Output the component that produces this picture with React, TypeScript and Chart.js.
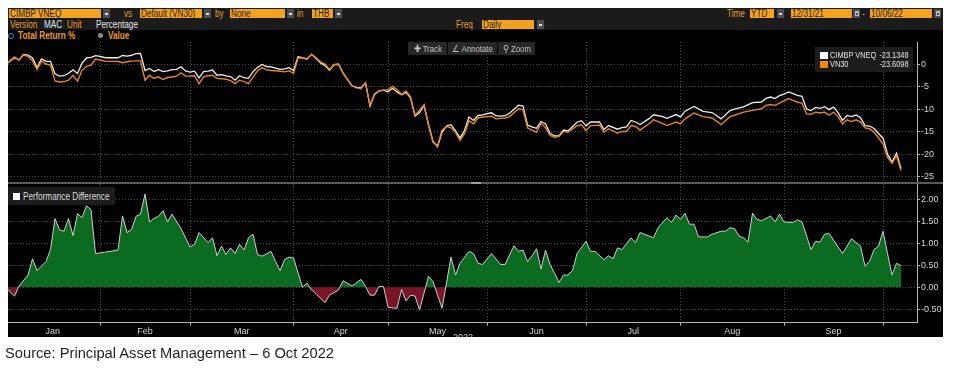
import React, { useEffect, useRef } from 'react';
import { Chart, registerables } from 'chart.js';

Chart.register(...registerables);

const FONT = "'Liberation Sans', Arial, sans-serif";

// x axis unit: weekday index counted from 31 Dec 2021 (= 0)
const monthEndDays = [21, 41, 64, 85, 107, 129, 150, 173, 195];
const monthLabels = ['Jan', 'Feb', 'Mar', 'Apr', 'May', 'Jun', 'Jul', 'Aug', 'Sep'];
const topTicks = [0, -5, -10, -15, -20, -25];
const diffTicks = [2, 1.5, 1, 0.5, 0, -0.5];
const legendNames = ['CIMBP VNEQ', 'VN30'];
const legendLast = ['-23.1348', '-23.6098'];

const topDays = [
  0, 1, 2, 3, 4, 5, 6, 7, 8, 9,
  10, 11, 12, 13, 14, 15, 16, 17, 18, 19,
  20, 21, 22, 23, 24, 25, 26, 27, 28, 29,
  30, 31, 32, 33, 34, 35, 36, 37, 38, 39,
  40, 41, 42, 43, 44, 45, 46, 47, 48, 49,
  50, 51, 52, 53, 54, 55, 56, 57, 58, 59,
  60, 61, 62, 63, 64, 65, 66, 67, 68, 69,
  70, 71, 72, 73, 74, 75, 76, 77, 78, 79,
  80, 81, 82, 83, 84, 85, 86, 87, 88, 89,
  90, 91, 92, 93, 94, 95, 96, 97, 98, 99,
  100, 101, 102, 103, 104, 105, 106, 107, 108, 109,
  110, 111, 112, 114, 115, 116, 117, 118, 119, 120,
  121, 122, 123, 124, 125, 127, 128, 129, 130, 132,
  133, 134, 136, 137, 138, 139, 140, 141, 143, 144,
  146, 147, 149, 150, 151, 153, 155, 157, 158, 159,
  161, 162, 164, 166, 168, 169, 170, 171, 172, 173,
  174, 175, 176, 177, 178, 179, 180, 181, 182, 183,
  184, 185, 186, 187, 188, 189, 190, 191, 192, 193,
  194, 195, 196, 197, 198, 199,
];

const vn30Values = [
  0, 0.8, 1.7, 1.0, 2.1, 1.8, 0.8, -1.1, 0.75, 0.1,
  -0.15, -3.65, -3.9, -3.8, -3.5, -2.4, -3.7, -1.3, -0.4, -0.15,
  1.2, 1.0, 0.75, 0.7, 0.7, 0.65, 0.4, 0.6, 0.75, 0.8,
  0.8, -3.5, -2.4, -3.1, -2.75, -3.35, -2.9, -2.8, -2.6, -1.85,
  -2.6, -2.6, -2.5, -4.25, -2.75, -2.5, -2.4, -3.1, -3.2, -3.3,
  -3.6, -4.25, -3.5, -3.8, -4.25, -2.8, -1.4, -0.7, -1.2, -1.35,
  -1.4, -1.5, -1.65, -1.4, -2.0, 1.35, 1.5, 1.1, 2.3, 1.5,
  0.6, 0.1, -1.1, 0.0, 0.1, -2.0, -3.4, -4.8, -5.2, -5.4,
  -4.1, -9.1, -6.5, -5.9, -5.7, -5.6, -4.85, -5.6, -6.7, -5.9,
  -7.2, -11.3, -10.2, -9.0, -13.6, -17.3, -18.1, -14.6, -13.8, -14.1,
  -15.1, -16.9, -15.4, -12.5, -13.2, -11.9, -11.7, -11.6, -11.5, -12.1,
  -12.0, -11.9, -11.6, -9.85, -10.1, -14.1, -14.6, -15.1, -13.1, -14.1,
  -15.8, -16.2, -16.0, -14.9, -15.1, -13.6, -13.4, -14.7, -13.6, -13.5,
  -15.1, -14.3, -15.3, -14.9, -14.9, -13.6, -13.8, -14.6, -13.2, -12.3,
  -13.1, -13.6, -12.8, -13.2, -12.1, -10.8, -11.6, -11.9, -12.6, -13.4,
  -11.6, -11.3, -10.6, -10.2, -9.85, -9.1, -8.9, -9.1, -8.6, -8.1,
  -7.6, -8.0, -8.4, -8.6, -11.0, -11.1, -10.6, -10.8, -10.6, -11.3,
  -10.6, -11.6, -13.2, -12.3, -12.7, -12.3, -12.8, -14.1, -14.3, -15.1,
  -16.3, -17.7, -20.7, -22.0, -20.3, -23.61,
];

const cimbValues = [
  0, 0.7, 1.5, 1.0, 2.25, 2.1, 1.45, -0.7, 1.25, 0.7,
  0.7, -2.1, -2.6, -2.5, -1.95, -1.2, -2.0, 0.3, 1.45, 1.6,
  1.95, 1.8, 1.55, 1.5, 1.5, 1.5, 2.0, 1.85, 2.05, 2.4,
  2.45, -1.35, -0.9, -1.55, -1.15, -1.6, -1.4, -1.15, -1.1, -0.5,
  -1.45, -1.7, -1.5, -3.0, -1.6, -1.5, -1.25, -2.4, -2.25, -2.55,
  -2.7, -3.5, -2.5, -2.95, -3.1, -1.6, -0.65, 0.0, -0.45, -0.55,
  -0.8, -1.1, -1.0, -0.7, -1.35, 1.7, 1.5, 1.2, 2.25, 1.35,
  0.35, -0.25, -1.3, -0.1, 0.05, -1.85, -3.3, -4.75, -5.1, -5.2,
  -4.1, -9.3, -6.7, -5.9, -5.7, -6.05, -5.3, -6.1, -6.75, -6.2,
  -7.4, -11.5, -10.7, -9.1, -13.35, -17.15, -18.3, -15.1, -13.7, -13.4,
  -14.8, -16.35, -14.7, -11.7, -12.45, -11.35, -11.2, -10.95, -10.75, -11.45,
  -11.5, -11.4, -10.85, -9.05, -9.25, -13.5, -13.9, -14.2, -12.7, -13.25,
  -15.3, -15.9, -15.9, -14.6, -14.8, -12.85, -12.5, -13.65, -12.8, -12.8,
  -14.45, -13.6, -14.4, -14.05, -13.9, -12.45, -12.8, -13.35, -12.05, -11.2,
  -11.6, -12.0, -11.15, -11.65, -10.4, -9.35, -10.45, -10.7, -11.35, -12.1,
  -10.25, -9.95, -9.45, -8.5, -8.35, -7.55, -7.25, -7.6, -6.95, -6.6,
  -6.1, -6.5, -6.85, -7.1, -9.9, -10.25, -9.55, -9.75, -9.4, -10.05,
  -9.5, -10.7, -12.45, -11.35, -11.6, -11.25, -11.85, -13.6, -13.7, -14.25,
  -15.35, -16.4, -19.95, -21.7, -19.75, -23.13,
];

const diffDays = [
  0, 2, 3, 5, 6, 7, 9, 10, 11, 12,
  13, 14, 15, 16, 17, 18, 19, 20, 22, 25,
  26, 27, 28, 29, 30, 31, 32, 33, 34, 35,
  36, 37, 39, 41, 42, 43, 45, 46, 47, 48,
  49, 50, 51, 52, 53, 54, 55, 56, 57, 59,
  60, 61, 62, 63, 64, 66, 67, 68, 69, 71,
  72, 74, 75, 77, 79, 80, 81, 82, 83, 84,
  85, 87, 88, 89, 90, 91, 92, 94, 95, 97,
  99, 100, 101, 103, 104, 105, 106, 108, 110, 111,
  113, 114, 115, 116, 117, 118, 119, 120, 121, 122,
  123, 124, 125, 126, 127, 129, 130, 131, 133, 134,
  135, 136, 137, 139, 140, 141, 144, 145, 147, 148,
  149, 150, 151, 152, 153, 154, 156, 157, 159, 160,
  161, 162, 163, 164, 165, 166, 167, 168, 169, 170,
  171, 172, 173, 175, 176, 177, 179, 180, 181, 182,
  183, 186, 188, 190, 191, 192, 193, 194, 195, 196,
  197, 198, 199,
];

const diffValues = [
  0, -0.2, 0.03, 0.28, 0.65, 0.38, 0.59, 0.86, 1.57, 1.31,
  1.28, 1.57, 1.18, 1.68, 1.59, 1.86, 1.77, 0.77, 0.8, 0.85,
  1.63, 1.25, 1.32, 1.62, 1.67, 2.13, 1.49, 1.57, 1.62, 1.75,
  1.49, 1.67, 1.34, 0.92, 0.98, 1.25, 1.02, 1.13, 0.72, 0.94,
  0.75, 0.9, 0.77, 0.98, 0.85, 1.13, 1.21, 0.75, 0.71, 0.82,
  0.59, 0.38, 0.63, 0.69, 0.67, 0, 0.1, -0.06, -0.15, -0.35,
  -0.18, -0.06, 0.15, 0.03, 0.18, 0.02, -0.18, -0.18, 0.02, 0.02,
  -0.46, -0.48, -0.05, -0.31, -0.18, -0.2, -0.52, 0.25, 0.13, -0.48,
  0.69, 0.28, 0.55, 0.82, 0.77, 0.55, 0.52, 0.77, 0.52, 0.52,
  0.95, 0.82, 0.85, 0.59, 0.72, 0.88, 0.42, 0.85, 0.52, 0.32,
  0.11, 0.28, 0.28, 0.38, 0.77, 1.05, 0.82, 0.82, 0.63, 0.72,
  0.65, 0.9, 0.86, 1.13, 1.02, 1.25, 1.13, 1.36, 1.59, 1.48,
  1.65, 1.55, 1.69, 1.44, 1.44, 1.15, 1.15, 1.21, 1.28, 1.28,
  1.36, 1.34, 1.17, 1.13, 1.03, 1.69, 1.55, 1.52, 1.57, 1.63,
  1.49, 1.67, 1.49, 1.48, 1.54, 1.49, 0.86, 1.05, 1.03, 1.21,
  1.23, 0.77, 1.11, 0.94, 0.48, 0.59, 0.86, 0.94, 1.28, 0.77,
  0.28, 0.55, 0.49,
];

const X_MIN = 0.55;
const X_MAX = 202.55;
const TOP_MIN = -26.15;
const TOP_MAX = 5.0;
const DIFF_MIN = -0.808;
const DIFF_MAX = 2.358;

const GRID = 'rgba(125,125,125,0.6)';
const AXIS = '#b4b4b4';
const TICK_TEXT = '#d6d6d6';
const AMBER = '#f5a21f';
const AMBER_TEXT = '#eb9d2f';
const ORANGE_LINE = '#e6861c';
const SQUEEZE = 0.82;

const monthMids = monthEndDays.map((d, k) => ((k === 0 ? 0 : monthEndDays[k - 1]) + d) / 2);

const makeX = (withLabels: boolean): any => ({
  type: 'linear',
  min: X_MIN,
  max: X_MAX,
  afterBuildTicks: (s: any) => {
    const vals = withLabels ? [...monthEndDays, ...monthMids] : [...monthEndDays];
    vals.sort((a, b) => a - b);
    s.ticks = vals.map((v) => ({ value: v }));
  },
  afterFit: (s: any) => {
    s.height = withLabels ? 14.3 : 0;
    s.paddingLeft = 0;
    s.paddingRight = 0;
    s.paddingTop = 0;
    s.paddingBottom = 0;
  },
  ticks: {
    display: withLabels,
    autoSkip: false,
    maxRotation: 0,
    minRotation: 0,
    padding: 0,
    color: TICK_TEXT,
    font: { family: FONT, size: 9 },
    callback: (v: any) => {
      const k = monthMids.indexOf(Number(v));
      return k >= 0 ? monthLabels[k] : '';
    },
  },
  grid: {
    color: (c: any) => (c.tick && monthEndDays.includes(c.tick.value) ? GRID : 'rgba(0,0,0,0)'),
    tickColor: (c: any) => (c.tick && monthEndDays.includes(c.tick.value) ? AXIS : 'rgba(0,0,0,0)'),
    drawTicks: withLabels,
    tickLength: 3,
    tickBorderDash: [],
    lineWidth: 1,
    borderDash: [1, 2],
  },
  border: { display: false, dash: [1, 2] },
});

const makeY = (min: number, max: number, ticks: number[], fmt: (v: number) => string): any => ({
  position: 'right',
  min,
  max,
  afterBuildTicks: (s: any) => {
    s.ticks = [...ticks].sort((a, b) => a - b).map((v) => ({ value: v }));
  },
  afterFit: (s: any) => {
    s.width = 26;
    s.paddingTop = 0;
    s.paddingBottom = 0;
  },
  ticks: {
    autoSkip: false,
    color: TICK_TEXT,
    font: { family: FONT, size: 9 },
    padding: 1,
    callback: (v: any) => fmt(Number(v)),
  },
  grid: {
    color: GRID,
    tickColor: AXIS,
    tickLength: 3,
    tickBorderDash: [],
    drawTicks: true,
    lineWidth: 1,
    borderDash: [1, 2],
  },
  border: { display: false, dash: [1, 2] },
});

const commonOptions = {
  responsive: false,
  maintainAspectRatio: false,
  animation: false,
  events: [],
  layout: { padding: 0, autoPadding: false },
  plugins: { legend: { display: false }, tooltip: { enabled: false } },
};

const pos = (l: number, t: number, w: number, h: number, bg?: string): React.CSSProperties => ({
  position: 'absolute',
  left: l,
  top: t,
  width: w,
  height: h,
  background: bg,
});

const Narrow = ({ children, origin = 'left' }: { children: React.ReactNode; origin?: string }) => (
  <span
    style={{
      display: 'inline-block',
      transform: `scaleX(${SQUEEZE})`,
      transformOrigin: `${origin} center`,
      whiteSpace: 'nowrap',
    }}
  >
    {children}
  </span>
);

const Box = ({ l, t, w, text }: { l: number; t: number; w: number; text: string }) => (
  <div
    style={{
      ...pos(l, t, w, 9, AMBER),
      color: '#1c1c1c',
      fontSize: 10,
      lineHeight: '9px',
      paddingLeft: 1,
      boxSizing: 'border-box',
      whiteSpace: 'nowrap',
      overflow: 'hidden',
    }}
  >
    <Narrow>{text}</Narrow>
  </div>
);

const Drop = ({ l, t }: { l: number; t: number }) => (
  <div style={pos(l, t, 7, 9, '#4e4e4e')}>
    <div style={pos(2, 4, 3, 1.5, '#dcdcdc')} />
  </div>
);

const Cal = ({ l, t }: { l: number; t: number }) => (
  <div style={pos(l, t, 7, 9, '#4e4e4e')}>
    <div style={pos(1.5, 2, 4, 5, '#bdbdbd')} />
    <div style={pos(2.5, 4, 2, 2, '#4e4e4e')} />
  </div>
);

const Lbl = ({ l, t, text, color, bold }: { l: number; t: number; text: string; color: string; bold?: boolean }) => (
  <div
    style={{
      position: 'absolute',
      left: l,
      top: t,
      color,
      fontSize: 10,
      lineHeight: '11px',
      whiteSpace: 'nowrap',
      fontWeight: bold ? 'bold' : 'normal',
    }}
  >
    <Narrow>{text}</Narrow>
  </div>
);

export default function App() {
  const topRef = useRef<HTMLCanvasElement>(null);
  const botRef = useRef<HTMLCanvasElement>(null);

  useEffect(() => {
    const top = new Chart(topRef.current as HTMLCanvasElement, {
      type: 'line',
      data: {
        datasets: [
          {
            label: legendNames[1],
            data: topDays.map((d, i) => ({ x: d, y: vn30Values[i] })),
            borderColor: ORANGE_LINE,
            borderWidth: 1.4,
            pointRadius: 0,
            tension: 0,
          },
          {
            label: legendNames[0],
            data: topDays.map((d, i) => ({ x: d, y: cimbValues[i] })),
            borderColor: '#ededed',
            borderWidth: 1.3,
            pointRadius: 0,
            tension: 0,
          },
        ],
      },
      options: {
        ...commonOptions,
        scales: {
          x: makeX(false),
          y: makeY(TOP_MIN, TOP_MAX, topTicks, (v) => String(v)),
        },
      } as any,
    });

    const bot = new Chart(botRef.current as HTMLCanvasElement, {
      type: 'line',
      data: {
        datasets: [
          {
            label: 'Performance Difference',
            data: diffDays.map((d, i) => ({ x: d, y: diffValues[i] })),
            borderColor: '#cfcfcf',
            borderWidth: 1,
            pointRadius: 0,
            tension: 0,
            fill: { target: { value: 0 }, above: '#0a6b21', below: '#7a1426' },
          },
        ],
      },
      options: {
        ...commonOptions,
        scales: {
          x: makeX(true),
          y: makeY(DIFF_MIN, DIFF_MAX, diffTicks, (v) => v.toFixed(2)),
        },
      } as any,
    });

    return () => {
      top.destroy();
      bot.destroy();
    };
  }, []);

  return (
    <div
      style={{
        position: 'fixed',
        left: 0,
        top: 0,
        width: 954,
        height: 371,
        background: '#ffffff',
        overflow: 'hidden',
        fontFamily: FONT,
      }}
    >
      {/* black terminal panel */}
      <div style={pos(8, 8, 935, 329, '#000000')} />
      <div style={pos(8, 8, 935, 22, '#1b1b1b')} />

      {/* header row 1 */}
      <Box l={9} t={9} w={92} text="CIMBP VNEQ" />
      <Drop l={103} t={9} />
      <Lbl l={124} t={8} text="vs" color={AMBER_TEXT} />
      <Box l={140} t={9} w={62} text="Default (VN30)" />
      <Drop l={204} t={9} />
      <Lbl l={215} t={8} text="by" color={AMBER_TEXT} />
      <Box l={230} t={9} w={55} text="None" />
      <Drop l={287} t={9} />
      <Lbl l={297} t={8} text="in" color={AMBER_TEXT} />
      <Box l={312} t={9} w={21} text="THB" />
      <Drop l={335} t={9} />

      <Lbl l={727} t={8} text="Time" color={AMBER_TEXT} />
      <Box l={750} t={9} w={24} text="YTD" />
      <Drop l={777} t={9} />
      <Box l={791} t={9} w={61} text="12/31/21" />
      <Cal l={853} t={9} />
      <Lbl l={862} t={8} text="-" color={AMBER_TEXT} />
      <Box l={870} t={9} w={62} text="10/06/22" />
      <Cal l={934} t={9} />

      {/* header row 2 */}
      <Lbl l={10} t={19} text="Version" color={AMBER_TEXT} />
      <Lbl l={44} t={19} text="MAC" color="#dfe9ff" />
      <Lbl l={67} t={19} text="Unit" color={AMBER_TEXT} />
      <Lbl l={96} t={19} text="Percentage" color="#e6e6e6" />
      <Lbl l={456} t={19} text="Freq" color={AMBER_TEXT} />
      <Box l={482} t={20} w={52} text="Daily" />
      <Drop l={537} t={20} />

      {/* header row 3 */}
      <div
        style={{
          ...pos(7.5, 32.5, 6, 6),
          border: '1.5px solid #3d8ef5',
          borderRadius: '50%',
          boxSizing: 'border-box',
        }}
      />
      <Lbl l={18} t={30} text="Total Return %" color={AMBER_TEXT} bold />
      <div style={{ ...pos(98, 33, 5, 5, '#8a8a8a'), borderRadius: '50%' }} />
      <Lbl l={108} t={30} text="Value" color={AMBER_TEXT} bold />

      {/* charts */}
      <canvas ref={topRef} width={935} height={140} style={{ position: 'absolute', left: 8, top: 42 }} />
      <canvas ref={botRef} width={935} height={153} style={{ position: 'absolute', left: 8, top: 184 }} />

      {/* axis lines */}
      <div style={pos(917, 42, 1, 140, AXIS)} />
      <div style={pos(917, 184, 1, 139, AXIS)} />
      <div style={pos(8, 322, 910, 1, AXIS)} />

      {/* panel separator */}
      <div style={pos(8, 182, 935, 2, '#5a5a5a')} />
      <div style={pos(471, 182, 10, 2, '#a0a0a0')} />

      {/* toolbar */}
      {[
        { l: 408, w: 39, t: '\u271A Track' },
        { l: 448, w: 49, t: '\u2220 Annotate' },
        { l: 498, w: 37, t: '\u26B2 Zoom' },
      ].map((b) => (
        <div
          key={b.t}
          style={{
            ...pos(b.l, 42, b.w, 13, '#272727'),
            color: '#c4c4c4',
            fontSize: 9.5,
            lineHeight: '13px',
            textAlign: 'center',
            whiteSpace: 'nowrap',
          }}
        >
          <Narrow origin="center">{b.t}</Narrow>
        </div>
      ))}

      {/* top legend */}
      <div style={pos(815, 47, 98, 25, '#1c1c1c')} />
      <div style={pos(819.5, 51.5, 8, 7, '#ffffff')} />
      <div style={pos(819.5, 61, 8, 7, '#f7860f')} />
      {legendNames.map((n, i) => (
        <React.Fragment key={n}>
          <div
            style={{
              position: 'absolute',
              left: 830,
              top: 49.5 + i * 9.5,
              color: '#e4e4e4',
              fontSize: 9,
              lineHeight: '11px',
              whiteSpace: 'nowrap',
            }}
          >
            <Narrow>{n}</Narrow>
          </div>
          <div
            style={{
              position: 'absolute',
              left: 860,
              width: 49,
              top: 49.5 + i * 9.5,
              color: '#e4e4e4',
              fontSize: 9,
              lineHeight: '11px',
              textAlign: 'right',
              whiteSpace: 'nowrap',
            }}
          >
            <Narrow origin="right">{legendLast[i]}</Narrow>
          </div>
        </React.Fragment>
      ))}

      {/* bottom legend */}
      <div style={pos(8, 187, 107, 18, '#1c1c1c')} />
      <div style={pos(13, 193, 7, 7, '#ffffff')} />
      <div
        style={{
          position: 'absolute',
          left: 23,
          top: 191,
          color: '#dcdcdc',
          fontSize: 10,
          lineHeight: '11px',
          whiteSpace: 'nowrap',
        }}
      >
        <Narrow>Performance Difference</Narrow>
      </div>

      {/* clipped year label */}
      <div style={{ ...pos(448, 333, 30, 4), overflow: 'hidden' }}>
        <div style={{ position: 'absolute', left: 5, top: 0, color: '#cfcfcf', fontSize: 9, lineHeight: '9px' }}>2022</div>
      </div>

      {/* source */}
      <div
        style={{
          position: 'absolute',
          left: 5,
          top: 345,
          fontFamily: "'Liberation Sans', Arial, sans-serif",
          fontSize: 14.7,
          lineHeight: '16px',
          color: '#1f1f1f',
          whiteSpace: 'nowrap',
        }}
      >
        Source: Principal Asset Management – 6 Oct 2022
      </div>
    </div>
  );
}
